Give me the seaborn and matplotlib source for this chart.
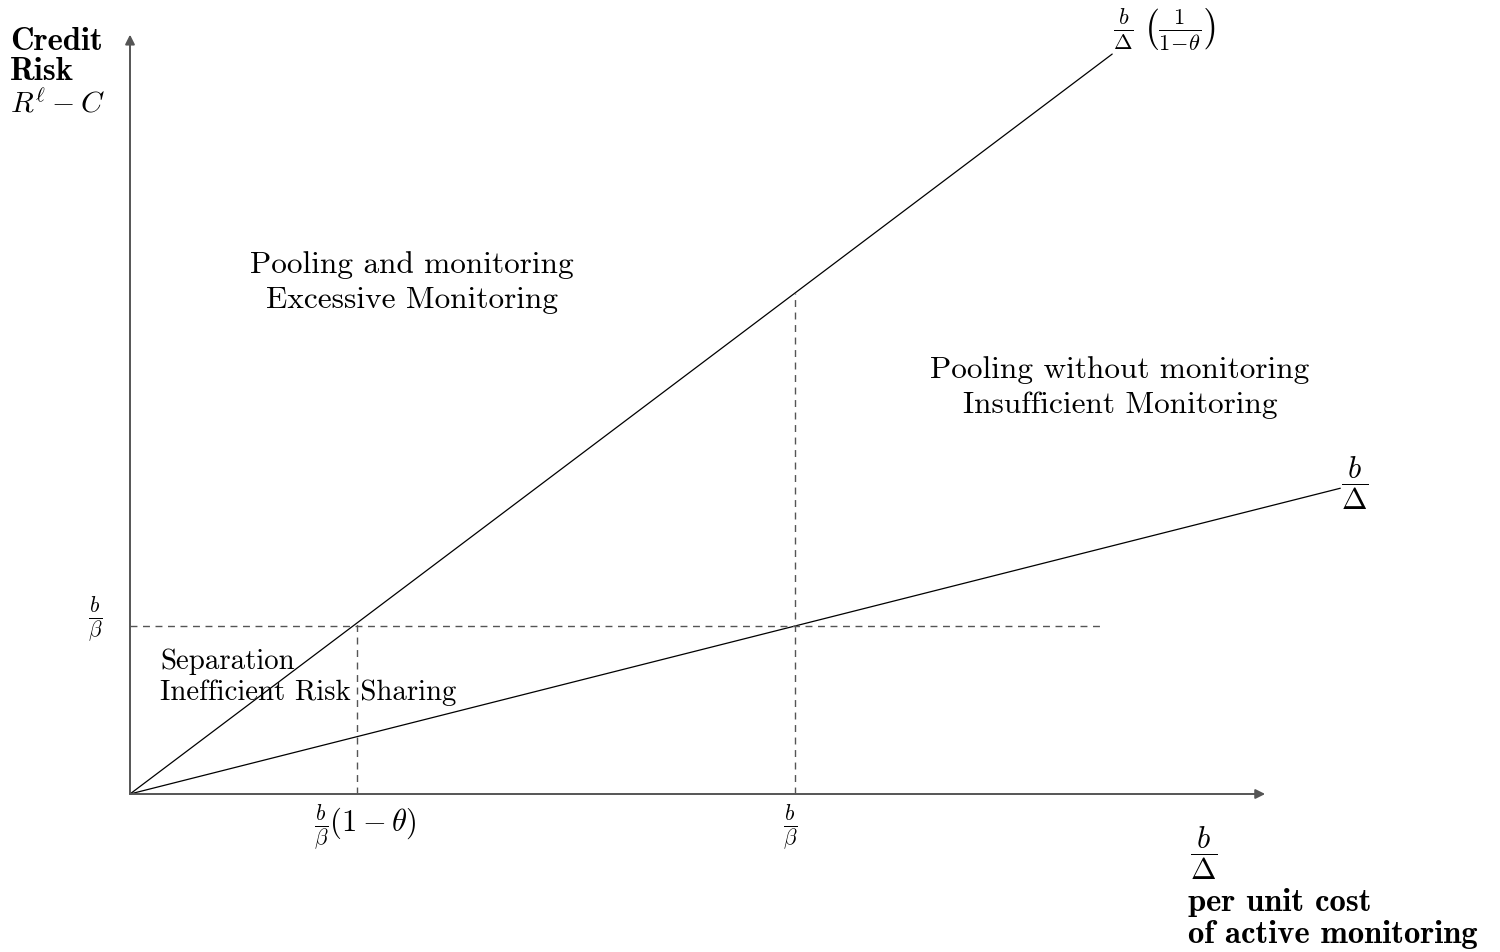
import matplotlib
matplotlib.use("Agg")
import matplotlib.pyplot as plt
import seaborn as sns
import pandas as pd
import numpy as np

sns.set_theme(style="white")
plt.rcParams["mathtext.fontset"] = "cm"
plt.rcParams["font.family"] = ["cmr10", "DejaVu Serif"]
plt.rcParams["axes.unicode_minus"] = False
plt.rcParams["text.color"] = "black"

# ---- data (x in units of b/beta, y in units of b/beta) ----
one_minus_theta = 0.3414          # position of b/beta (1-theta) on x axis
steep_slope = 2.982               # slope of b/Delta * 1/(1-theta) line
shallow_slope = 1.0               # slope of b/Delta line
steep_x = [0.0, 1.477]
shallow_x = [0.0, 1.82]
threshold_y = 1.0                 # b/beta on y axis
threshold_x = 1.0                 # b/beta on x axis
hline_end = 1.466
x_axis_end = 1.707
y_axis_end = 4.52

lines = pd.DataFrame({
    "x": steep_x + shallow_x,
    "y": [steep_slope * v for v in steep_x] + [shallow_slope * v for v in shallow_x],
    "line": ["steep", "steep", "shallow", "shallow"],
})

fig = plt.figure(figsize=(15, 9.53), dpi=100)
ax = fig.add_axes([0, 0, 1, 1])
ax.set_xlim(-130 / 665, 1370 / 665)
ax.set_ylim((795 - 953) / 168, 795 / 168)
ax.axis("off")

sns.lineplot(data=lines, x="x", y="y", units="line", estimator=None,
             color="black", lw=0.9, ax=ax, legend=False)

axis_col = "#555555"
dash = (0, (5, 4))
# dashed guides
ax.plot([0, hline_end], [threshold_y, threshold_y], color=axis_col, lw=1.0, ls=dash)
ax.plot([one_minus_theta, one_minus_theta], [0, steep_slope * one_minus_theta],
        color=axis_col, lw=1.0, ls=dash)
ax.plot([threshold_x, threshold_x], [0, steep_slope * threshold_x],
        color=axis_col, lw=1.0, ls=dash)

# axes arrows
ax.annotate("", xy=(x_axis_end, 0), xytext=(0, 0),
            arrowprops=dict(arrowstyle="-|>", color=axis_col, lw=1.4,
                            mutation_scale=14, shrinkA=0, shrinkB=0))
ax.annotate("", xy=(0, y_axis_end), xytext=(0, 0),
            arrowprops=dict(arrowstyle="-|>", color=axis_col, lw=1.4,
                            mutation_scale=14, shrinkA=0, shrinkB=0))

def px(x, y):
    return ((x - 130) / 665, (795 - y) / 168)

fs = 22.5
# y label
ax.text(*px(10, 42), "Credit", family="cmb10", fontsize=23.5, ha="left", va="center")
ax.text(*px(10, 72), "Risk", family="cmb10", fontsize=23.5, ha="left", va="center")
ax.text(*px(10, 104), r"$R^{\ell}-C$", fontsize=21.5, ha="left", va="center")

# region labels
ax.text(*px(412, 265), "Pooling and monitoring", fontsize=fs, ha="center", va="center")
ax.text(*px(412, 300), "Excessive Monitoring", fontsize=fs, ha="center", va="center")
ax.text(*px(1120, 370), "Pooling without monitoring", fontsize=fs, ha="center", va="center")
ax.text(*px(1120, 405), "Insufficient Monitoring", fontsize=fs, ha="center", va="center")
ax.text(*px(160, 662), "Separation", fontsize=20.8, ha="left", va="center")
ax.text(*px(160, 693), "Inefficient Risk Sharing", fontsize=20.8, ha="left", va="center")

# tick labels
ax.text(*px(95, 620), r"$\frac{b}{\beta}$", fontsize=22, ha="center", va="center")
ax.text(*px(365, 828), r"$\frac{b}{\beta}(1-\theta)$", fontsize=22, ha="center", va="center")
ax.text(*px(790, 828), r"$\frac{b}{\beta}$", fontsize=22, ha="center", va="center")

# line labels
ax.text(*px(1113, 30), r"$\frac{b}{\Delta}\;\left(\frac{1}{1\!-\!\theta}\right)$",
        fontsize=23, ha="left", va="center")
ax.text(*px(1355, 483), r"$\dfrac{b}{\Delta}$", fontsize=22, ha="center", va="center")

# x label
ax.text(*px(1204, 853), r"$\dfrac{b}{\Delta}$", fontsize=22, ha="center", va="center")
ax.text(*px(1188, 903), "per unit cost", family="cmb10", fontsize=23.5, ha="left", va="center")
ax.text(*px(1188, 935), "of active monitoring", family="cmb10", fontsize=23.5, ha="left", va="center")

fig.savefig("out.png", dpi=100, facecolor="white")
